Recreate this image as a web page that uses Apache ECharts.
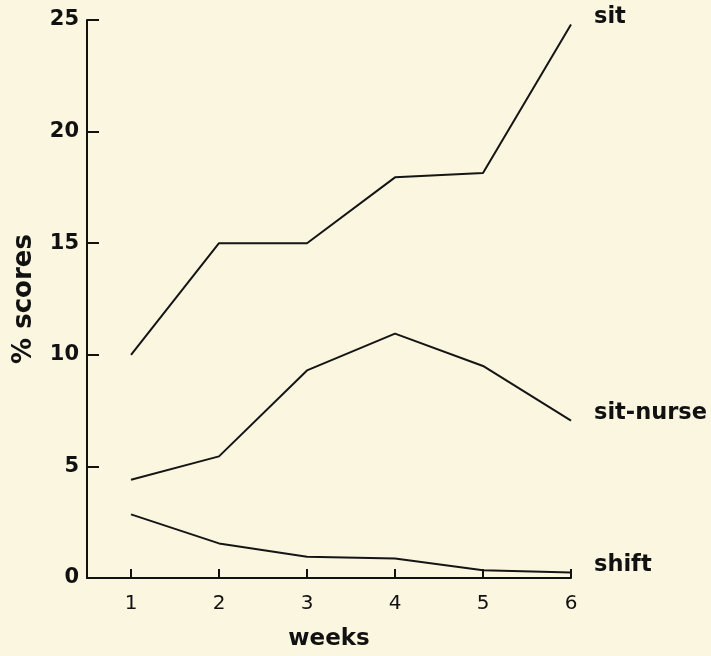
<!DOCTYPE html>
<html><head><meta charset="utf-8">
<script src="https://cdn.jsdelivr.net/npm/echarts@6/dist/echarts.min.js"></script>
<style>html,body{margin:0;padding:0;background:#faf6e0}#c{width:711px;height:656px}</style>
</head><body><div id="c"></div>
<script>
const weeks = [1, 2, 3, 4, 5, 6];
const sit = [10.0, 15.0, 15.0, 17.95, 18.15, 24.8];
const sitNurse = [4.4, 5.45, 9.3, 10.95, 9.5, 7.05];
const shift = [2.85, 1.55, 0.95, 0.87, 0.35, 0.25];
const yTicks = [0, 5, 10, 15, 20, 25];

const font = '"DejaVu Sans", Verdana, sans-serif';
function mk(name, vals) {
  return {
    name: name, type: 'line', symbol: 'none',
    data: weeks.map((w, i) => [w, vals[i]]),
    lineStyle: { color: '#151515', width: 2 },
    endLabel: { show: true, formatter: '{a}', color: '#111', fontFamily: font, fontWeight: 'bold', fontSize: 22.5, offset: [15, -7] },
    animation: false
  };
}
const chart = echarts.init(document.getElementById('c'));
chart.setOption({
  backgroundColor: '#faf6e0',
  animation: false,
  grid: { left: 87, right: 140, top: 20, bottom: 78 },
  xAxis: {
    type: 'value', min: 0.5, max: 6,
    name: 'weeks', nameLocation: 'middle', nameGap: 50,
    nameTextStyle: { fontFamily: font, fontWeight: 'bold', fontSize: 23, color: '#111' },
    axisLine: { lineStyle: { color: '#111', width: 2 } },
    axisTick: { inside: true, length: 9, customValues: weeks, lineStyle: { color: '#111', width: 2 } },
    axisLabel: { customValues: weeks, fontFamily: font, fontSize: 20, color: '#111', margin: 16 },
    splitLine: { show: false }
  },
  yAxis: {
    type: 'value', min: 0, max: 25, interval: 5,
    name: '% scores', nameLocation: 'middle', nameGap: 50, nameRotate: 90,
    nameTextStyle: { fontFamily: font, fontWeight: 'bold', fontSize: 26, color: '#111' },
    axisLine: { show: true, lineStyle: { color: '#111', width: 2 } },
    axisTick: { show: true, inside: true, length: 12, lineStyle: { color: '#111', width: 2 } },
    axisLabel: { fontFamily: font, fontWeight: 'bold', fontSize: 21, color: '#111', margin: 8, customValues: yTicks },
    splitLine: { show: false }
  },
  series: [mk('sit', sit), mk('sit-nurse', sitNurse), mk('shift', shift)]
});
</script></body></html>
